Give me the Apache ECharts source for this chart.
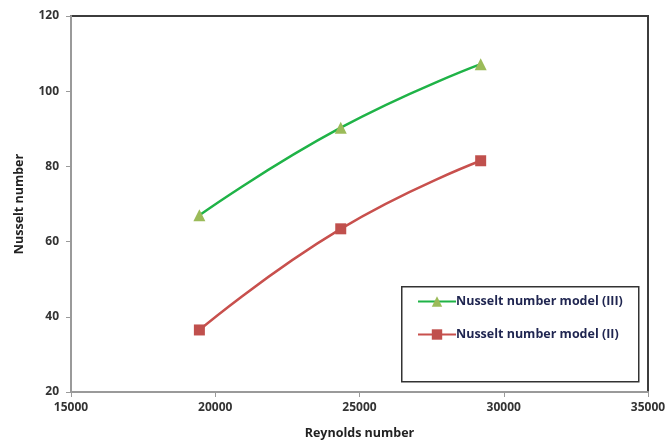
<!DOCTYPE html>
<html>
<head>
<meta charset="utf-8">
<script src="https://cdn.jsdelivr.net/npm/echarts@6/dist/echarts.min.js"></script>
<style>
  html, body { margin: 0; padding: 0; background: #fff; }
  #chart { width: 669px; height: 443px; }
</style>
</head>
<body>
<div id="chart"></div>
<script>
// Reynolds numbers of the three operating points
const reynolds = [19450, 24350, 29200];
// Nusselt number predicted by each model
const nusseltModelIII = [67.0, 90.3, 107.2];
const nusseltModelII = [36.5, 63.4, 81.5];
const seriesNames = ['Nusselt number model (III)', 'Nusselt number model (II)'];

const pairs = (xs, ys) => xs.map((x, i) => [x, ys[i]]);
const font = 'Open Sans';

const chart = echarts.init(document.getElementById('chart'));
chart.setOption({
  animation: false,
  backgroundColor: '#fff',
  grid: {
    left: 71, right: 21, top: 16, bottom: 51,
    outerBoundsMode: 'none',
    show: true, borderColor: '#3c3c3c', borderWidth: 2
  },
  xAxis: {
    type: 'value', min: 15000, max: 35000, interval: 5000,
    name: 'Reynolds number', nameLocation: 'middle', nameGap: 35,
    nameTextStyle: { fontFamily: font, fontSize: 12.5, fontWeight: 'bold', color: '#222' },
    axisLine: { lineStyle: { color: '#9a9a9a', width: 2 } },
    axisTick: { length: 5, lineStyle: { color: '#9a9a9a' } },
    axisLabel: { fontFamily: font, fontSize: 12, fontWeight: 'bold', color: '#333', margin: 10,
      formatter: v => String(v) },
    splitLine: { show: false }
  },
  yAxis: {
    type: 'value', min: 20, max: 120, interval: 20,
    name: 'Nusselt number', nameLocation: 'middle', nameGap: 45, nameRotate: 90,
    nameTextStyle: { fontFamily: font, fontSize: 12.5, fontWeight: 'bold', color: '#222' },
    axisLine: { show: true, lineStyle: { color: '#9a9a9a', width: 2 } },
    axisTick: { show: true, length: 5, lineStyle: { color: '#9a9a9a' } },
    axisLabel: { fontFamily: font, fontSize: 12, fontWeight: 'bold', color: '#333', margin: 12 },
    splitLine: { show: false }
  },
  legend: {
    left: 412, top: 290, orient: 'vertical', itemGap: 20,
    itemWidth: 38, itemHeight: 13,
    textStyle: { fontFamily: font, fontSize: 12.5, fontWeight: 'bold', color: '#1f2550', padding: [0, 0, 0, -5] },
    data: seriesNames
  },
  graphic: [{
    type: 'rect', left: 401, top: 286, z: 0,
    shape: { width: 237, height: 95 },
    style: { fill: '#fff', stroke: '#333', lineWidth: 1.5 }
  }],
  series: [
    {
      name: seriesNames[0], type: 'line', smooth: 0.5,
      data: pairs(reynolds, nusseltModelIII),
      symbol: 'triangle', symbolSize: 12,
      lineStyle: { color: '#1fb347', width: 2.5 },
      itemStyle: { color: '#9bbb59' }
    },
    {
      name: seriesNames[1], type: 'line', smooth: 0.5,
      data: pairs(reynolds, nusseltModelII),
      symbol: 'rect', symbolSize: 11,
      lineStyle: { color: '#c8504d', width: 2.5 },
      itemStyle: { color: '#c0504d' }
    }
  ]
});
</script>
</body>
</html>
